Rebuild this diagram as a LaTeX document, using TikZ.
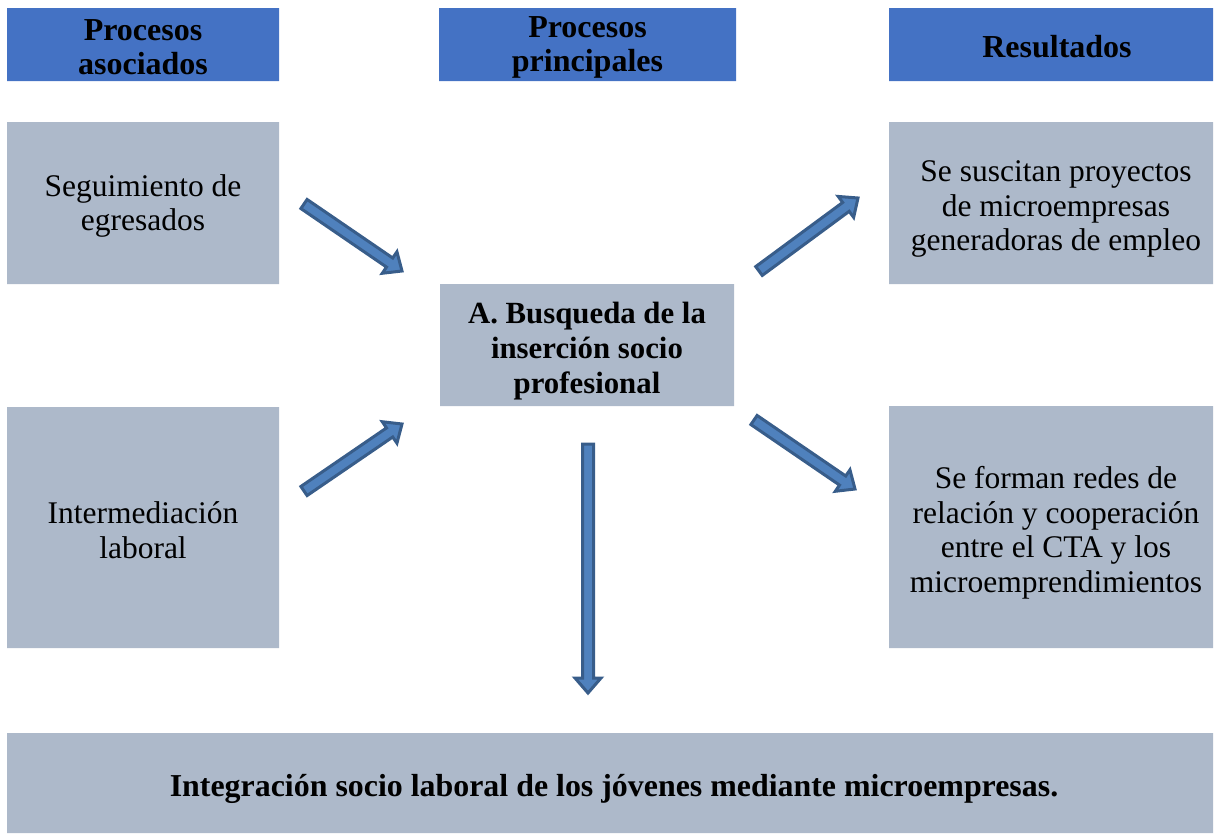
\documentclass[tikz,border=0pt]{standalone}
\usepackage{fontspec}
\setmainfont{Liberation Serif}
\usetikzlibrary{calc}
\definecolor{hdr}{HTML}{4472C4}
\definecolor{boxc}{HTML}{ADB9CA}
\definecolor{arrdark}{HTML}{385D8A}
\definecolor{arrlight}{HTML}{4F81BD}
\tikzset{
  hdrbox/.style={inner sep=0pt, align=center, font=\fontsize{32}{34}\selectfont\bfseries},
  graybox/.style={inner sep=0pt, align=center, font=\fontsize{31.5}{34.5}\selectfont},
  boldtext/.style={font=\fontsize{30.8}{35}\selectfont\bfseries},
  bottomtext/.style={font=\fontsize{31.9}{35}\selectfont\bfseries},
  arrstyle/.style={draw=arrdark, fill=arrlight, line width=3pt, line join=miter}
}
\newcommand{\blockarr}[2]{%
  \coordinate (tmph) at ($(#2)!15pt!(#1)$);
  \draw[arrstyle] ($(#1)!5.5pt!90:(#2)$) -- ($(tmph)!5.5pt!-90:(#1)$) -- ($(tmph)!13pt!-90:(#1)$)
    -- (#2) -- ($(tmph)!13pt!90:(#1)$) -- ($(tmph)!5.5pt!90:(#1)$) -- ($(#1)!5.5pt!-90:(#2)$) -- cycle;}
\begin{document}
\begin{tikzpicture}[x=1pt,y=-1pt]
\useasboundingbox (0,0) rectangle (1214,835);
% header fills
\path[fill=hdr] (7,8) rectangle (279,81) (439,8) rectangle (736,81) (889,8) rectangle (1213,81);
\node[hdrbox] (h1) at (143,47) {Procesos\\asociados};
\node[hdrbox] (h2) at (587.5,47) {Procesos\\principales};
\node[hdrbox] (h3) at (1057,47) {Resultados};
% gray fills
\path[fill=boxc] (7,122) rectangle (279,284) (7,407) rectangle (279,648)
  (440,284) rectangle (734,406) (889,122) rectangle (1213,284) (889,406) rectangle (1213,648)
  (7,733) rectangle (1213,833);
\node[graybox] (l1) at (143,206) {Seguimiento de\\egresados};
\node[graybox] (l2) at (143,530) {Intermediación\\laboral};
\node[graybox, boldtext] (c) at (587,351) {A. Busqueda de la\\inserción socio\\profesional};
\node[graybox] (r1) at (1056,209) {Se suscitan proyectos\\de microempresas\\generadoras de empleo};
\node[graybox] (r2) at (1056,533) {Se forman redes de\\relación y cooperación\\entre el CTA y los\\microemprendimientos};
\node[graybox, bottomtext] (b) at (614,789) {Integración socio laboral de los jóvenes mediante microempresas.};
% arrows
\coordinate (a1s) at (304,204);
\coordinate (a1e) at (402,271);
\coordinate (a2s) at (304,491);
\coordinate (a2e) at (402,424);
\coordinate (a3s) at (759,271);
\coordinate (a3e) at (858,198);
\coordinate (a4s) at (754,420);
\coordinate (a4e) at (855,489);
\coordinate (a5s) at (588,444);
\coordinate (a5e) at (588,693);
\blockarr{a1s}{a1e}
\blockarr{a2s}{a2e}
\blockarr{a3s}{a3e}
\blockarr{a4s}{a4e}
\blockarr{a5s}{a5e}
\end{tikzpicture}
\end{document}
